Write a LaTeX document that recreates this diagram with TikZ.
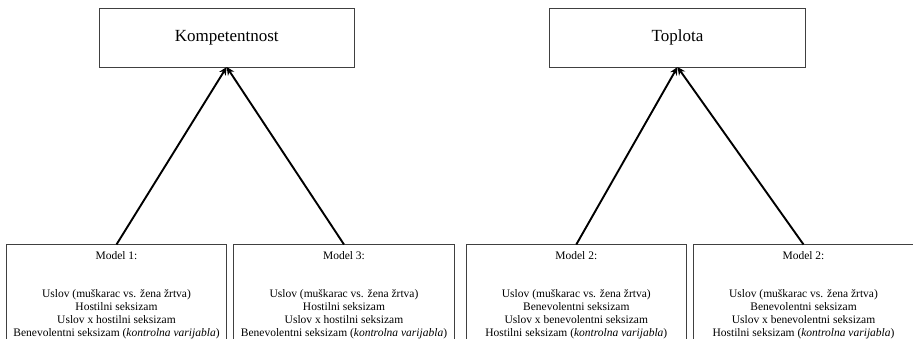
\documentclass[tikz,border=0pt]{standalone}
\usepackage{fontspec}
\setmainfont{Liberation Serif}
\usetikzlibrary{arrows.meta}
\tikzset{
  topbox/.style={draw=black!75, line width=0.9pt, outer sep=0pt, minimum width=255.5pt, minimum height=59pt, inner sep=0pt, font=\fontsize{17}{20}\selectfont},
  botbox/.style={draw=black!75, line width=0.9pt, outer sep=0pt, minimum width=220.5pt, minimum height=110pt, inner sep=0pt, anchor=north},
  bottext/.style={anchor=north, align=center, inner sep=0pt, font=\fontsize{11.5}{13}\selectfont},
  link/.style={line width=1.9pt, -{Stealth[length=8pt,width=7.5pt]}}
}
\begin{document}
\begin{tikzpicture}[x=1pt,y=-1pt]
\useasboundingbox (0,0) rectangle (913,339);
\clip (0,0) rectangle (913,339);
\node[topbox] (komp) at (226.7,37.5) {Kompetentnost};
\node[topbox] (topl) at (677.5,37.5) {Toplota};
\node[botbox] (b1) at (116.5,244.5) {};
\node[botbox] (b2) at (344,244.5) {};
\node[botbox] (b3) at (576.3,244.5) {};
\node[botbox] (b4) at (803.5,244.5) {};
\node[bottext] (t1) at ([yshift=-7pt]b1.north) {Model 1:\\[24.7pt]Uslov (muškarac vs. žena žrtva)\\Hostilni seksizam\\Uslov x hostilni seksizam\\Benevolentni seksizam (\textit{kontrolna varijabla})};
\node[bottext] (t2) at ([yshift=-7pt]b2.north) {Model 3:\\[24.7pt]Uslov (muškarac vs. žena žrtva)\\Hostilni seksizam\\Uslov x hostilni seksizam\\Benevolentni seksizam (\textit{kontrolna varijabla})};
\node[bottext] (t3) at ([yshift=-7pt]b3.north) {Model 2:\\[24.7pt]Uslov (muškarac vs. žena žrtva)\\Benevolentni seksizam\\Uslov x benevolentni seksizam\\Hostilni seksizam (\textit{kontrolna varijabla})};
\node[bottext] (t4) at ([yshift=-7pt]b4.north) {Model 2:\\[24.7pt]Uslov (muškarac vs. žena žrtva)\\Benevolentni seksizam\\Uslov x benevolentni seksizam\\Hostilni seksizam (\textit{kontrolna varijabla})};
\draw[link] (b1.north) -- (komp.south);
\draw[link] (b2.north) -- (komp.south);
\draw[link] (b3.north) -- (topl.south);
\draw[link] (b4.north) -- (topl.south);
\end{tikzpicture}
\end{document}
